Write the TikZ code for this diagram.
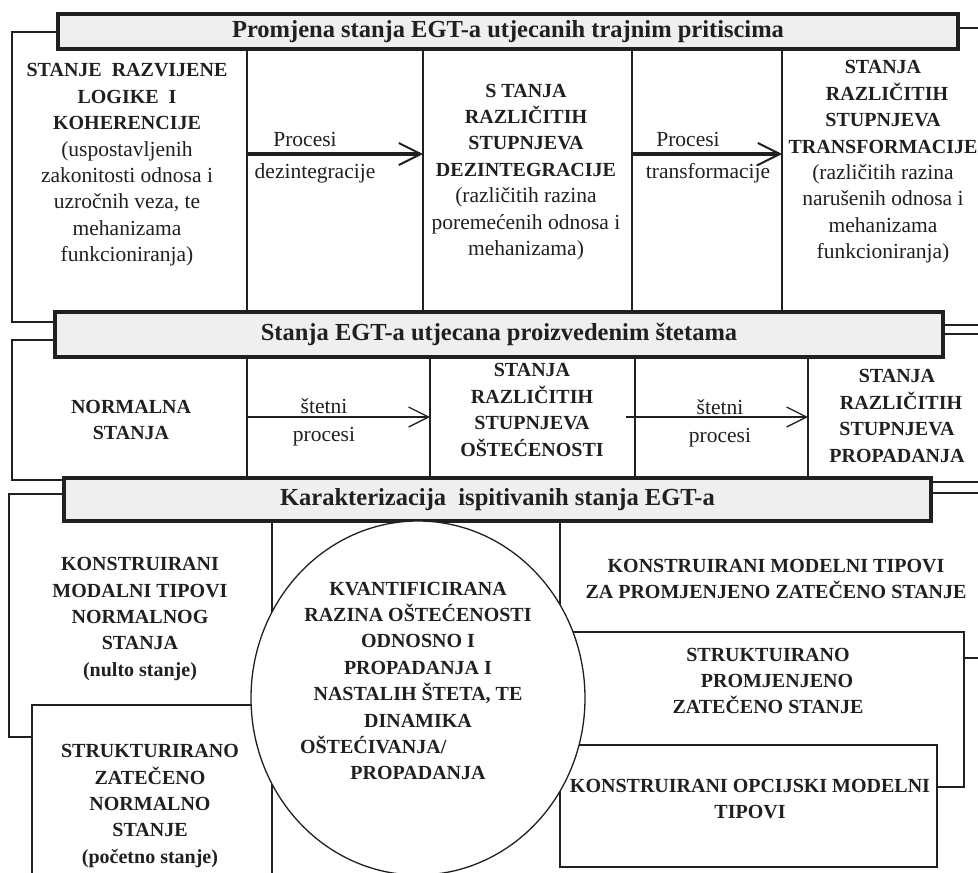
\documentclass[tikz,border=0pt]{standalone}
\usepackage{fontspec}
\setmainfont{Liberation Serif}
\usetikzlibrary{arrows.meta}
\definecolor{ink}{RGB}{35,31,32}
\definecolor{hdrgray}{RGB}{239,239,239}
\newcommand\bc[1]{{\bfseries\fontsize{20}{26}\selectfont #1}}
\begin{document}
\begin{tikzpicture}[x=1pt,y=-1pt,
  ln/.style={draw=ink,line width=1.3pt},
  hdr/.style={draw=ink,line width=3.6pt,fill=hdrgray,inner sep=0pt,text=ink,font=\bfseries\fontsize{24.5}{28}\selectfont},
  txt/.style={align=center,inner sep=0pt,text=ink,font=\fontsize{21.5}{26.4}\selectfont},
  lbl/.style={inner sep=0pt,text=ink,font=\fontsize{21.5}{26}\selectfont},
  bigarr/.style={draw=ink,line width=3.2pt,-{Straight Barb[length=22pt,width=22pt,line width=2pt]}},
  smallarr/.style={draw=ink,line width=1.3pt,-{Straight Barb[length=20pt,width=20pt]}},
]
\useasboundingbox (0,0) rectangle (978,873);
\fill[white] (0,0) rectangle (978,873);

% ---------- frame lines ----------
% left brackets
\draw[ln] (58,32) -- (12,32) -- (12,322) -- (55,322);
\draw[ln] (55,340) -- (12,340) -- (12,480) -- (64,480);
\draw[ln] (64,494) -- (9,494) -- (9,737) -- (32,737);
% right stubs
\draw[ln] (958,28) -- (978,28);
\draw[ln] (943,325) -- (978,325);
\draw[ln] (943,334) -- (978,334);
\draw[ln] (931,482) -- (978,482);
\draw[ln] (931,493) -- (978,493);
\draw[ln] (964,658) -- (978,658);
% top dividers
\foreach \xx in {247,423,632,782} \draw[ln] (\xx,50) -- (\xx,312);
% middle dividers
\foreach \xx in {247,430,635,808} \draw[ln] (\xx,357) -- (\xx,478);
% bottom section
\draw[ln] (272,521) -- (272,873);
\draw[ln] (560,521) -- (560,867) -- (937,867) -- (937,745) -- (560,745);
\draw[ln] (560,632) -- (964,632) -- (964,787) -- (937,787);
\draw[ln] (32,873) -- (32,705) -- (272,705);

% ---------- headers ----------
\node[hdr,minimum width=900pt,minimum height=35.4pt] (h1) at (508,31.5) {Promjena stanja EGT-a utjecanih trajnim pritiscima};
\node[hdr,minimum width=888pt,minimum height=45.4pt] (h2) at (499,334.5) {Stanja EGT-a utjecana proizvedenim štetama};
\node[hdr,minimum width=867pt,minimum height=43.4pt] (h3) at (497.5,499.5) {Karakterizacija\ \ ispitivanih stanja EGT-a};

% ---------- circle ----------
\draw[ln,fill=white] (418,698) ellipse [x radius=167pt, y radius=177pt];

% ---------- arrows ----------
\coordinate (a1s) at (247,154); \coordinate (a1e) at (423,154);
\coordinate (a2s) at (632,154); \coordinate (a2e) at (782,154);
\coordinate (a3s) at (247,417); \coordinate (a3e) at (430,417);
\coordinate (a4s) at (626,417); \coordinate (a4e) at (808,417);
\draw[bigarr] (a1s) -- (a1e);
\draw[bigarr] (a2s) -- (a2e);
\draw[smallarr] (a3s) -- (a3e);
\draw[smallarr] (a4s) -- (a4e);

% ---------- top section text ----------
\node[txt] (t1) at (127,165) {\bc{STANJE\ \ RAZVIJENE}\\ \bc{LOGIKE\ \ I}\\ \bc{KOHERENCIJE}\\ (uspostavljenih\\ zakonitosti odnosa i\\ uzročnih veza, te\\ mehanizama\\ funkcioniranja)};
\node[lbl] (p1a) at (305,139) {Procesi};
\node[lbl] (p1b) at (315,173) {dezintegracije};
\node[txt] (t3) at (526,172) {\bc{S TANJA}\\ \bc{RAZLIČITIH}\\ \bc{STUPNJEVA}\\ \bc{DEZINTEGRACIJE}\\ (različitih razina\\ poremećenih odnosa i\\ mehanizama)};
\node[lbl] (p2a) at (688,139) {Procesi};
\node[lbl] (p2b) at (708,173) {transformacije};
\node[txt] (t5) at (883,162) {\bc{STANJA}\\ \bc{\hspace{8pt}RAZLIČITIH}\\ \bc{STUPNJEVA}\\ \bc{TRANSFORMACIJE}\\ (različitih razina\\ narušenih odnosa i\\ mehanizama\\ funkcioniranja)};

% ---------- middle section text ----------
\node[txt] (m1) at (131,420) {\bc{NORMALNA}\\ \bc{STANJA}};
\node[lbl] (s1a) at (324,406) {štetni};
\node[lbl] (s1b) at (324,437) {procesi};
\node[txt] (m3) at (532,410) {\bc{STANJA}\\ \bc{RAZLIČITIH}\\ \bc{STUPNJEVA}\\ \bc{OŠTEĆENOSTI}};
\node[lbl] (s2a) at (720,407) {štetni};
\node[lbl] (s2b) at (720,438) {procesi};
\node[txt] (m5) at (897,416) {\bc{STANJA}\\ \bc{\hspace{8pt}RAZLIČITIH}\\ \bc{STUPNJEVA}\\ \bc{PROPADANJA}};

% ---------- bottom section text ----------
\node[txt] (b1) at (140,619) {\bc{KONSTRUIRANI}\\ \bc{MODALNI TIPOVI}\\ \bc{NORMALNOG}\\ \bc{STANJA}\\ \bc{(nulto stanje)}};
\node[txt] (b2) at (150,806) {\bc{STRUKTURIRANO}\\ \bc{ZATEČENO}\\ \bc{NORMALNO}\\ \bc{STANJE}\\ \bc{(početno stanje)}};
\node[txt] (c1) at (418,681) {\bc{KVANTIFICIRANA}\\ \bc{RAZINA OŠTEĆENOSTI}\\ \bc{ODNOSNO I}\\ \bc{PROPADANJA I}\\ \bc{NASTALIH ŠTETA, TE}\\ \bc{DINAMIKA}\\ \bc{\makebox[236pt][l]{OŠTEĆIVANJA/}}\\ \bc{PROPADANJA}};
\node[txt] (r1) at (776,579) {\bc{KONSTRUIRANI MODELNI TIPOVI}\\ \bc{ZA PROMJENJENO ZATEČENO STANJE}};
\node[txt] (r2) at (768,681) {\bc{STRUKTUIRANO}\\ \bc{\hspace{18pt}PROMJENJENO}\\ \bc{ZATEČENO STANJE}};
\node[txt] (r3) at (750,799) {\bc{KONSTRUIRANI OPCIJSKI MODELNI}\\ \bc{TIPOVI}};
\end{tikzpicture}
\end{document}
